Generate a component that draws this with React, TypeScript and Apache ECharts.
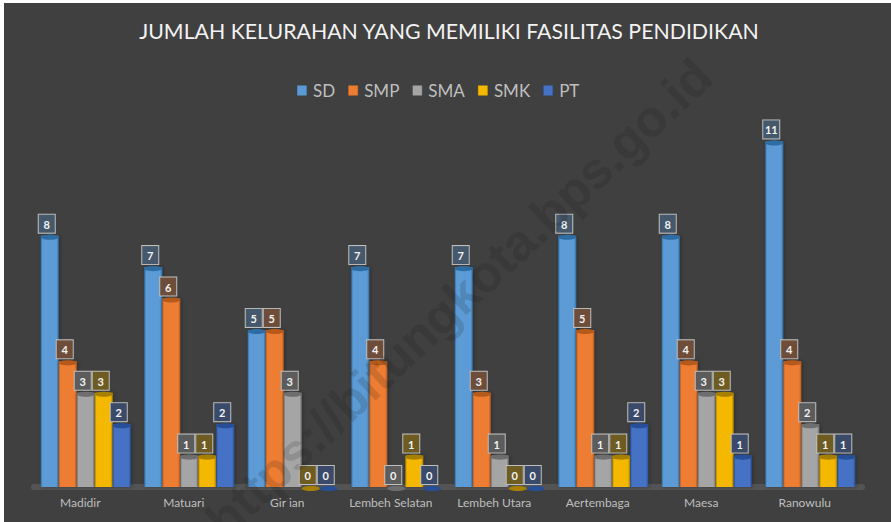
import React, { useEffect, useRef } from "react";
import * as echarts from "echarts";

const categories = ["Madidir", "Matuari", "Gir ian", "Lembeh Selatan", "Lembeh Utara", "Aertembaga", "Maesa", "Ranowulu"];
const sd = [8, 7, 5, 7, 7, 8, 8, 11];
const smp = [4, 6, 5, 4, 3, 5, 4, 4];
const sma = [3, 1, 3, 0, 1, 1, 3, 2];
const smk = [3, 1, 0, 1, 0, 1, 3, 1];
const pt = [2, 2, 0, 0, 0, 2, 1, 1];
const names = ["SD", "SMP", "SMA", "SMK", "PT"];
const values = [sd, smp, sma, smk, pt];
const colors = ["#5B9BD5", "#ED7D31", "#A5A5A5", "#F5B800", "#4472C4"];
const darks = ["#2E6DA4", "#B65A1C", "#6E6E6E", "#A88000", "#264F98"];
const labelBgs = ["#46586B", "#6E4E3A", "#5C5C5C", "#6E5C22", "#3A4A68"];

function gradient(i: number) {
  return new echarts.graphic.LinearGradient(0, 0, 1, 0, [
    { offset: 0, color: darks[i] },
    { offset: 0.1, color: colors[i] },
    { offset: 0.88, color: colors[i] },
    { offset: 1, color: darks[i] },
  ]);
}

export default function App() {
  const ref = useRef<HTMLDivElement>(null);
  useEffect(() => {
    document.body.style.margin = "0";
    const chart = echarts.init(ref.current!, undefined, { renderer: "svg" });
    const barSeries = names.map((name, i) => ({
      name,
      type: "bar",
      data: values[i],
      barWidth: 18,
      barGap: 0,
      z: 3,
      itemStyle: { color: gradient(i), shadowColor: "rgba(0,0,0,0.3)", shadowBlur: 4, shadowOffsetX: 1 },
      label: {
        show: true,
        position: "top",
        distance: 3,
        offset: [-3, 0],
        color: "#F2F2F2",
        fontFamily: "Lato",
        fontWeight: "bold",
        fontSize: 11,
        width: 12,
        height: 15,
        lineHeight: 15,
        align: "center",
        padding: [2, 2, 1, 2],
        backgroundColor: labelBgs[i],
        borderColor: "#BFBFBF",
        borderWidth: 1,
      },
    }));
    const capSeries = names.map((name, i) => ({
      name,
      type: "pictorialBar",
      data: values[i],
      symbol: "circle",
      symbolSize: [18, 5],
      symbolPosition: "end",
      symbolOffset: [0, -1],
      barWidth: 18,
      barGap: 0,
      z: 4,
      silent: true,
      itemStyle: { color: darks[i] },
    }));
    chart.setOption({
      animation: false,
      backgroundColor: "#404040",
      title: {
        text: "JUMLAH KELURAHAN YANG MEMILIKI FASILITAS PENDIDIKAN",
        left: 444,
        top: 15,
        textAlign: "center",
        textStyle: { color: "#F2F2F2", fontFamily: "Lato", fontWeight: "normal", fontSize: 21.3 },
      },
      legend: {
        data: names,
        top: 77,
        left: 292,
        icon: "rect",
        itemWidth: 10,
        itemHeight: 10,
        itemGap: 13,
        textStyle: { color: "#BFBFBF", fontFamily: "Lato", fontSize: 17, padding: [0, 0, 0, 1] },
      },
      grid: { left: 34, right: 29, top: 110, bottom: 35 },
      xAxis: {
        type: "category",
        data: categories,
        axisTick: { show: false },
        axisLine: { lineStyle: { color: "#545454", width: 6 } },
        axisLabel: { color: "#BFBFBF", fontFamily: "Lato", fontSize: 12, margin: 9, padding: [0, 11, 0, 0], interval: 0, hideOverlap: false },
      },
      yAxis: { type: "value", min: 0, max: 12, interval: 2, show: false, splitLine: { show: false } },
      graphic: [
        { type: "rect", left: 0, top: 0, shape: { width: 891, height: 3 }, style: { fill: "#FFFFFF" } },
        { type: "rect", left: 0, top: 0, shape: { width: 4, height: 522 }, style: { fill: "#FFFFFF" } },
        {
          type: "text",
          x: 459,
          y: 298,
          rotation: Math.PI * 0.24,
          z: 10,
          style: {
            text: "https://bitungkota.bps.go.id",
            fill: "rgba(20,20,20,0.15)",
            font: "bold 51px Liberation Sans",
            align: "center",
            verticalAlign: "middle",
          },
        },
      ],
      series: [...barSeries, ...capSeries],
    });
    return () => chart.dispose();
  }, []);
  return <div ref={ref} style={{ width: 891, height: 522 }} />;
}
